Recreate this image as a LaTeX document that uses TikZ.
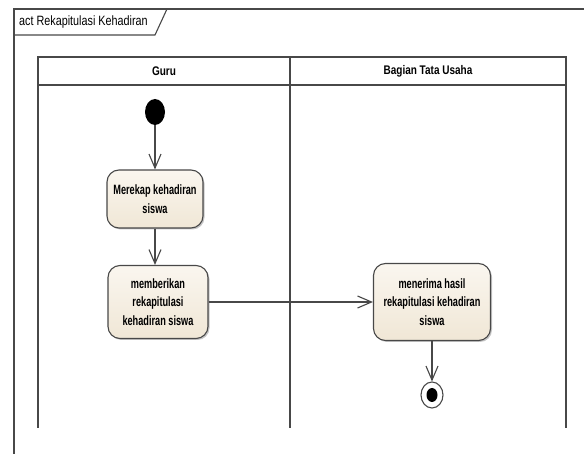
\documentclass[tikz,border=0pt]{standalone}
\usepackage{fontspec}
\setmainfont{Liberation Sans}
\newfontfamily\umlfont[FakeStretch=0.8]{Liberation Sans}
\newfontfamily\actfont[FakeStretch=0.68]{Liberation Sans}
\usetikzlibrary{arrows.meta,shapes.geometric,shadows}
\definecolor{umlline}{RGB}{72,72,72}
\definecolor{umlfill}{RGB}{240,231,214}
\definecolor{umltop}{RGB}{250,246,239}

\begin{document}
\begin{tikzpicture}[x=1pt,y=-1pt]

%
% Styles
%
\tikzstyle{frame}    = [draw=umlline,line width=1.1pt]
\tikzstyle{lane}     = [draw=umlline,line width=1.1pt]
\tikzstyle{title}    = [anchor=west,inner sep=0pt,font=\umlfont\fontsize{13.5}{15}\selectfont]
\tikzstyle{header}   = [font=\umlfont\bfseries\fontsize{12.5}{14}\selectfont]
\tikzstyle{activity} = [rectangle,rounded corners=12pt,draw=umlline,line width=1.1pt,
                        top color=umltop,bottom color=umlfill,align=center,inner sep=1pt,
                        font=\actfont\bfseries\fontsize{13.5}{18.5}\selectfont,
                        drop shadow={shadow xshift=1.5pt,shadow yshift=-1.5pt,fill=black!45}]
\tikzstyle{initial}  = [ellipse,fill=black,minimum width=20pt,minimum height=26pt,inner sep=0pt]
\tikzstyle{final}    = [ellipse,draw=umlline,line width=1.1pt,fill=white,minimum width=22pt,
                        minimum height=26pt,inner sep=0pt]
\tikzstyle{flow}     = [-{Straight Barb[length=14pt,width=12pt]},draw=umlline,line width=1.1pt]

\useasboundingbox (0,0) rectangle (584,454);

% frame and title tab
\draw[frame] (584,9) -- (14,9) -- (14,454);
\draw[frame] (14,35) -- (155,35) -- (167,9);
\node[title] (judul) at (19,22) {act Rekapitulasi Kehadiran};

% swimlanes
\draw[lane] (38,57) rectangle (566,85);
\draw[lane] (38,85) -- (38,428);
\draw[lane] (290,57) -- (290,428);
\draw[lane] (566,85) -- (566,428);
\node[header] (guru) at (164,71) {Guru};
\node[header] (tu)   at (428,71) {Bagian Tata Usaha};

% nodes
\node[initial] (mulai) at (155,112) {};
\node[activity,minimum width=96pt,minimum height=58pt]  (rekap)  at (155,199) {Merekap kehadiran\\siswa};
\node[activity,minimum width=100pt,minimum height=73pt] (beri)   at (158,302) {memberikan\\rekapitulasi\\kehadiran siswa};
\node[activity,minimum width=117pt,minimum height=77pt] (terima) at (432,302) {menerima hasil\\rekapitulasi kehadiran\\siswa};
\node[final] (selesai) at (432,395) {};
\fill[black] (selesai.center) ellipse (5.5 and 7);

% flows
\draw[flow] (mulai) -- (rekap);
\draw[flow] (rekap) -- (rekap |- beri.north);
\draw[flow] (beri) -- (terima);
\draw[flow] (terima.south) -- (selesai.north);

\end{tikzpicture}
\end{document}
